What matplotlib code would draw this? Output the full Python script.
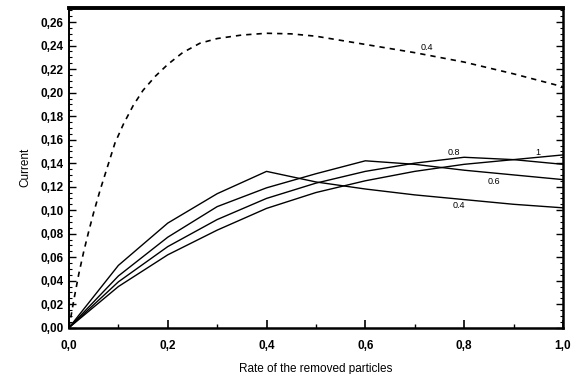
import numpy as np
import matplotlib
matplotlib.use("Agg")
import matplotlib.pyplot as plt
from matplotlib.ticker import MultipleLocator, FuncFormatter

plt.rcParams['font.family'] = ['Liberation Sans', 'DejaVu Sans']

# dashed curve (parameter 0.4)
x_dash = [0.0, 0.01, 0.02, 0.03, 0.04, 0.05, 0.063, 0.075, 0.093, 0.11, 0.13, 0.15,
          0.175, 0.2, 0.23, 0.265, 0.3, 0.35, 0.4, 0.45, 0.5, 0.6, 0.7, 0.8, 0.9, 1.0]
y_dash = [0.0, 0.024, 0.046, 0.065, 0.082, 0.098, 0.117, 0.133, 0.157, 0.173, 0.189, 0.202,
          0.214, 0.224, 0.234, 0.242, 0.246, 0.249, 0.2505, 0.2500, 0.248, 0.241, 0.234,
          0.226, 0.216, 0.205]

# solid curves, sampled every 0.1
x_solid = [0.0, 0.1, 0.2, 0.3, 0.4, 0.5, 0.6, 0.7, 0.8, 0.9, 1.0]
y_04 = [0.0, 0.053, 0.089, 0.114, 0.133, 0.124, 0.118, 0.113, 0.109, 0.105, 0.102]
y_06 = [0.0, 0.044, 0.077, 0.103, 0.119, 0.131, 0.142, 0.139, 0.134, 0.130, 0.126]
y_08 = [0.0, 0.039, 0.069, 0.092, 0.110, 0.123, 0.133, 0.140, 0.145, 0.143, 0.139]
y_10 = [0.0, 0.035, 0.062, 0.083, 0.1015, 0.115, 0.125, 0.133, 0.139, 0.143, 0.147]

labels = ["0.4", "0.8", "1", "0.6", "0.4"]
label_xy = [(0.724, 0.238), (0.78, 0.149), (0.95, 0.149), (0.861, 0.124), (0.79, 0.104)]

fig = plt.figure(figsize=(5.71, 3.74), dpi=100)
ax = fig.add_axes([0.1208, 0.1238, 0.865, 0.8548])

ax.plot(x_dash, y_dash, color='black', lw=1.2, linestyle=(0, (3.2, 3.0)))
for ys in (y_04, y_06, y_08, y_10):
    ax.plot(x_solid, ys, color='black', lw=1.0)

for t, (lx, ly) in zip(labels, label_xy):
    ax.text(lx, ly, t, fontsize=6.5, ha='center', va='center')

ax.set_xlim(0, 1.0)
ax.set_ylim(0, 0.272)

ax.xaxis.set_major_locator(MultipleLocator(0.2))
ax.xaxis.set_minor_locator(MultipleLocator(0.1))
ax.yaxis.set_major_locator(MultipleLocator(0.02))
ax.yaxis.set_minor_locator(MultipleLocator(0.005))
ax.xaxis.set_major_formatter(FuncFormatter(lambda v, p: f"{v:.1f}".replace('.', ',')))
ax.yaxis.set_major_formatter(FuncFormatter(lambda v, p: f"{v:.2f}".replace('.', ',')))

ax.tick_params(which='both', direction='in', right=True, top=False)
ax.tick_params(axis='x', which='major', length=6, width=1.2, pad=9, labelsize=8.5)
ax.tick_params(axis='x', which='minor', length=3, width=1.0)
ax.tick_params(axis='y', which='major', length=5, width=1.0, pad=4, labelsize=8.5)
ax.tick_params(axis='y', which='minor', length=2.5, width=0.8)
for lab in ax.get_xticklabels() + ax.get_yticklabels():
    lab.set_fontweight('bold')

ax.spines['top'].set_linewidth(2.8)
ax.spines['right'].set_linewidth(1.8)
ax.spines['bottom'].set_linewidth(1.8)
ax.spines['left'].set_linewidth(1.4)

ax.set_xlabel("Rate of the removed particles", fontsize=8.5, labelpad=8)
ax.set_ylabel("Current", fontsize=8.5, labelpad=6)

fig.savefig("out.png", dpi=100)
